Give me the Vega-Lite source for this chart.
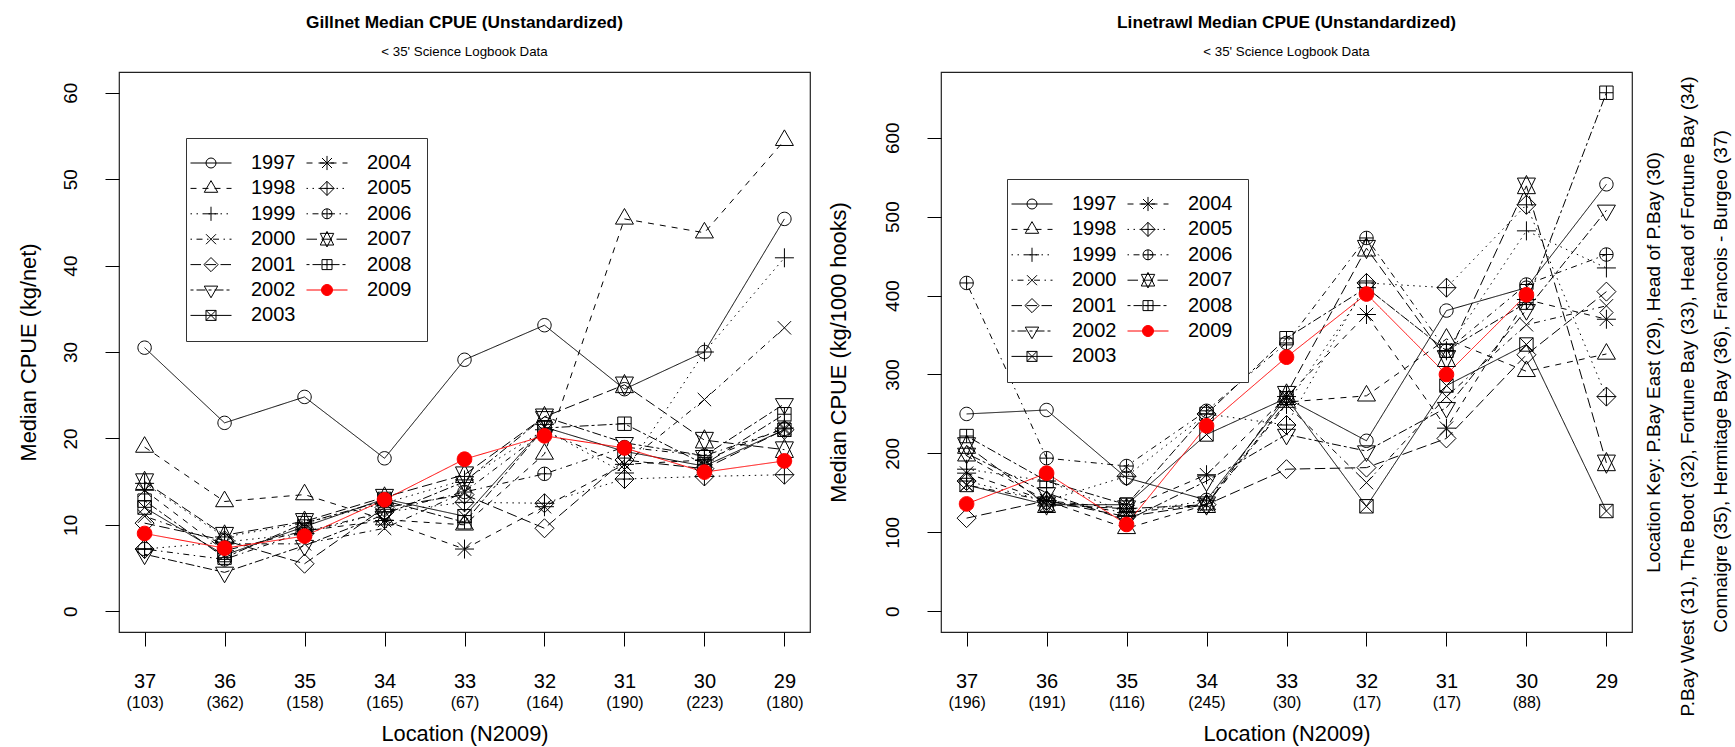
{
  "$schema": "https://vega.github.io/schema/vega-lite/v6.json",
  "background": "white",
  "padding": {"left": 17, "top": 13, "right": 5, "bottom": 5},
  "config": {
    "font": "Liberation Sans",
    "view": {"stroke": "#222222", "strokeWidth": 1.2},
    "axis": {
      "grid": false, "domain": false, "tickColor": "black", "tickWidth": 1, "tickSize": 14,
      "labelColor": "black", "titleColor": "black", "titleFontWeight": "normal",
      "labelFont": "Liberation Sans", "titleFont": "Liberation Sans",
      "labelOverlap": false, "labelFlush": false
    },
    "concat": {"spacing": 16},
    "title": {
      "color": "black", "subtitleColor": "black", "font": "Liberation Sans", "subtitleFont": "Liberation Sans",
      "fontWeight": "bold", "fontSize": 17.3, "subtitleFontSize": 13.3, "anchor": "middle", "frame": "group",
      "subtitlePadding": 13.5, "offset": 14
    },
    "legend": {
      "orient": "none", "columns": 2, "padding": 15, "rowPadding": 5.4, "columnPadding": 8,
      "labelFontSize": 20, "labelOffset": 30, "labelColor": "black", "labelFont": "Liberation Sans",
      "symbolSize": 4, "symbolStrokeWidth": 1, "symbolOpacity": 1,
      "strokeColor": "#333333", "fillColor": "white", "cornerRadius": 0
    }
  },
  "datasets": {
    "gillnet": [
      {"loc":"37","year":"1997","cpue":30.5},{"loc":"36","year":"1997","cpue":21.8},{"loc":"35","year":"1997","cpue":24.8},{"loc":"34","year":"1997","cpue":17.7},{"loc":"33","year":"1997","cpue":29.1},{"loc":"32","year":"1997","cpue":33.1},{"loc":"31","year":"1997","cpue":25.7},{"loc":"30","year":"1997","cpue":30.0},{"loc":"29","year":"1997","cpue":45.4},
      {"loc":"37","year":"1998","cpue":19.0},{"loc":"36","year":"1998","cpue":12.7},{"loc":"35","year":"1998","cpue":13.5},{"loc":"34","year":"1998","cpue":10.6},{"loc":"33","year":"1998","cpue":10.0},{"loc":"32","year":"1998","cpue":18.2},{"loc":"31","year":"1998","cpue":45.4},{"loc":"30","year":"1998","cpue":43.8},{"loc":"29","year":"1998","cpue":54.5},
      {"loc":"37","year":"1999","cpue":14.8},{"loc":"36","year":"1999","cpue":8.6},{"loc":"35","year":"1999","cpue":10.2},{"loc":"34","year":"1999","cpue":12.5},{"loc":"33","year":"1999","cpue":15.2},{"loc":"32","year":"1999","cpue":21.0},{"loc":"31","year":"1999","cpue":16.0},{"loc":"30","year":"1999","cpue":30.0},{"loc":"29","year":"1999","cpue":40.9},
      {"loc":"37","year":"2000","cpue":11.0},{"loc":"36","year":"2000","cpue":7.8},{"loc":"35","year":"2000","cpue":7.8},{"loc":"34","year":"2000","cpue":9.6},{"loc":"33","year":"2000","cpue":13.8},{"loc":"32","year":"2000","cpue":20.8},{"loc":"31","year":"2000","cpue":17.0},{"loc":"30","year":"2000","cpue":24.5},{"loc":"29","year":"2000","cpue":32.8},
      {"loc":"37","year":"2001","cpue":10.2},{"loc":"36","year":"2001","cpue":8.2},{"loc":"35","year":"2001","cpue":5.5},{"loc":"34","year":"2001","cpue":12.0},{"loc":"33","year":"2001","cpue":13.5},{"loc":"32","year":"2001","cpue":9.6},{"loc":"31","year":"2001","cpue":17.5},{"loc":"30","year":"2001","cpue":16.5},{"loc":"29","year":"2001","cpue":21.0},
      {"loc":"37","year":"2002","cpue":6.6},{"loc":"36","year":"2002","cpue":4.5},{"loc":"35","year":"2002","cpue":7.6},{"loc":"34","year":"2002","cpue":11.2},{"loc":"33","year":"2002","cpue":15.0},{"loc":"32","year":"2002","cpue":22.5},{"loc":"31","year":"2002","cpue":19.5},{"loc":"30","year":"2002","cpue":18.0},{"loc":"29","year":"2002","cpue":24.0},
      {"loc":"37","year":"2003","cpue":12.0},{"loc":"36","year":"2003","cpue":6.5},{"loc":"35","year":"2003","cpue":9.8},{"loc":"34","year":"2003","cpue":13.0},{"loc":"33","year":"2003","cpue":11.0},{"loc":"32","year":"2003","cpue":21.3},{"loc":"31","year":"2003","cpue":18.5},{"loc":"30","year":"2003","cpue":16.8},{"loc":"29","year":"2003","cpue":21.0},
      {"loc":"37","year":"2004","cpue":14.0},{"loc":"36","year":"2004","cpue":7.0},{"loc":"35","year":"2004","cpue":9.3},{"loc":"34","year":"2004","cpue":10.5},{"loc":"33","year":"2004","cpue":7.2},{"loc":"32","year":"2004","cpue":12.1},{"loc":"31","year":"2004","cpue":17.0},{"loc":"30","year":"2004","cpue":17.5},{"loc":"29","year":"2004","cpue":21.2},
      {"loc":"37","year":"2005","cpue":7.2},{"loc":"36","year":"2005","cpue":8.0},{"loc":"35","year":"2005","cpue":9.0},{"loc":"34","year":"2005","cpue":11.5},{"loc":"33","year":"2005","cpue":12.6},{"loc":"32","year":"2005","cpue":12.5},{"loc":"31","year":"2005","cpue":15.3},{"loc":"30","year":"2005","cpue":15.6},{"loc":"29","year":"2005","cpue":15.8},
      {"loc":"37","year":"2006","cpue":7.2},{"loc":"36","year":"2006","cpue":6.0},{"loc":"35","year":"2006","cpue":9.2},{"loc":"34","year":"2006","cpue":11.5},{"loc":"33","year":"2006","cpue":13.8},{"loc":"32","year":"2006","cpue":15.9},{"loc":"31","year":"2006","cpue":19.0},{"loc":"30","year":"2006","cpue":18.0},{"loc":"29","year":"2006","cpue":21.1},
      {"loc":"37","year":"2007","cpue":15.0},{"loc":"36","year":"2007","cpue":8.8},{"loc":"35","year":"2007","cpue":10.4},{"loc":"34","year":"2007","cpue":13.2},{"loc":"33","year":"2007","cpue":15.8},{"loc":"32","year":"2007","cpue":22.5},{"loc":"31","year":"2007","cpue":26.2},{"loc":"30","year":"2007","cpue":19.8},{"loc":"29","year":"2007","cpue":18.7},
      {"loc":"37","year":"2008","cpue":12.8},{"loc":"36","year":"2008","cpue":6.2},{"loc":"35","year":"2008","cpue":10.2},{"loc":"34","year":"2008","cpue":12.8},{"loc":"33","year":"2008","cpue":10.3},{"loc":"32","year":"2008","cpue":21.2},{"loc":"31","year":"2008","cpue":21.7},{"loc":"30","year":"2008","cpue":17.0},{"loc":"29","year":"2008","cpue":22.8},
      {"loc":"37","year":"2009","cpue":9.0},{"loc":"36","year":"2009","cpue":7.3},{"loc":"35","year":"2009","cpue":8.7},{"loc":"34","year":"2009","cpue":12.9},{"loc":"33","year":"2009","cpue":17.6},{"loc":"32","year":"2009","cpue":20.3},{"loc":"31","year":"2009","cpue":18.9},{"loc":"30","year":"2009","cpue":16.1},{"loc":"29","year":"2009","cpue":17.4}
    ],
    "linetrawl": [
      {"loc":"37","year":"1997","cpue":250},{"loc":"36","year":"1997","cpue":255},{"loc":"35","year":"1997","cpue":169},{"loc":"34","year":"1997","cpue":141},{"loc":"33","year":"1997","cpue":270},{"loc":"32","year":"1997","cpue":216},{"loc":"31","year":"1997","cpue":381},{"loc":"30","year":"1997","cpue":410},{"loc":"29","year":"1997","cpue":541},
      {"loc":"37","year":"1998","cpue":197},{"loc":"36","year":"1998","cpue":140},{"loc":"35","year":"1998","cpue":105},{"loc":"34","year":"1998","cpue":135},{"loc":"33","year":"1998","cpue":265},{"loc":"32","year":"1998","cpue":273},{"loc":"31","year":"1998","cpue":345},{"loc":"30","year":"1998","cpue":304},{"loc":"29","year":"1998","cpue":326},
      {"loc":"37","year":"1999","cpue":180},{"loc":"36","year":"1999","cpue":165},{"loc":"35","year":"1999","cpue":125},{"loc":"34","year":"1999","cpue":140},{"loc":"33","year":"1999","cpue":262},{"loc":"32","year":"1999","cpue":410},{"loc":"31","year":"1999","cpue":330},{"loc":"30","year":"1999","cpue":482},{"loc":"29","year":"1999","cpue":435},
      {"loc":"37","year":"2000","cpue":160},{"loc":"36","year":"2000","cpue":140},{"loc":"35","year":"2000","cpue":125},{"loc":"34","year":"2000","cpue":135},{"loc":"33","year":"2000","cpue":262},{"loc":"32","year":"2000","cpue":163},{"loc":"31","year":"2000","cpue":272},{"loc":"30","year":"2000","cpue":363},{"loc":"29","year":"2000","cpue":387},
      {"loc":"37","year":"2001","cpue":118},{"loc":"36","year":"2001","cpue":140},{"loc":"35","year":"2001","cpue":120},{"loc":"34","year":"2001","cpue":135},{"loc":"33","year":"2001","cpue":180},{"loc":"32","year":"2001","cpue":182},{"loc":"31","year":"2001","cpue":219},{"loc":"30","year":"2001","cpue":325},{"loc":"29","year":"2001","cpue":405},
      {"loc":"37","year":"2002","cpue":200},{"loc":"36","year":"2002","cpue":150},{"loc":"35","year":"2002","cpue":115},{"loc":"34","year":"2002","cpue":165},{"loc":"33","year":"2002","cpue":224},{"loc":"32","year":"2002","cpue":203},{"loc":"31","year":"2002","cpue":258},{"loc":"30","year":"2002","cpue":382},{"loc":"29","year":"2002","cpue":508},
      {"loc":"37","year":"2003","cpue":160},{"loc":"36","year":"2003","cpue":135},{"loc":"35","year":"2003","cpue":135},{"loc":"34","year":"2003","cpue":224},{"loc":"33","year":"2003","cpue":270},{"loc":"32","year":"2003","cpue":133},{"loc":"31","year":"2003","cpue":286},{"loc":"30","year":"2003","cpue":338},{"loc":"29","year":"2003","cpue":127},
      {"loc":"37","year":"2004","cpue":175},{"loc":"36","year":"2004","cpue":140},{"loc":"35","year":"2004","cpue":130},{"loc":"34","year":"2004","cpue":173},{"loc":"33","year":"2004","cpue":272},{"loc":"32","year":"2004","cpue":376},{"loc":"31","year":"2004","cpue":232},{"loc":"30","year":"2004","cpue":395},{"loc":"29","year":"2004","cpue":370},
      {"loc":"37","year":"2005","cpue":165},{"loc":"36","year":"2005","cpue":140},{"loc":"35","year":"2005","cpue":171},{"loc":"34","year":"2005","cpue":250},{"loc":"33","year":"2005","cpue":236},{"loc":"32","year":"2005","cpue":416},{"loc":"31","year":"2005","cpue":410},{"loc":"30","year":"2005","cpue":515},{"loc":"29","year":"2005","cpue":272},
      {"loc":"37","year":"2006","cpue":416},{"loc":"36","year":"2006","cpue":194},{"loc":"35","year":"2006","cpue":184},{"loc":"34","year":"2006","cpue":254},{"loc":"33","year":"2006","cpue":340},{"loc":"32","year":"2006","cpue":473},{"loc":"31","year":"2006","cpue":330},{"loc":"30","year":"2006","cpue":414},{"loc":"29","year":"2006","cpue":452},
      {"loc":"37","year":"2007","cpue":210},{"loc":"36","year":"2007","cpue":135},{"loc":"35","year":"2007","cpue":130},{"loc":"34","year":"2007","cpue":135},{"loc":"33","year":"2007","cpue":275},{"loc":"32","year":"2007","cpue":460},{"loc":"31","year":"2007","cpue":320},{"loc":"30","year":"2007","cpue":539},{"loc":"29","year":"2007","cpue":188},
      {"loc":"37","year":"2008","cpue":222},{"loc":"36","year":"2008","cpue":165},{"loc":"35","year":"2008","cpue":135},{"loc":"34","year":"2008","cpue":250},{"loc":"33","year":"2008","cpue":346},{"loc":"32","year":"2008","cpue":410},{"loc":"31","year":"2008","cpue":330},{"loc":"30","year":"2008","cpue":391},{"loc":"29","year":"2008","cpue":657},
      {"loc":"37","year":"2009","cpue":136},{"loc":"36","year":"2009","cpue":175},{"loc":"35","year":"2009","cpue":110},{"loc":"34","year":"2009","cpue":235},{"loc":"33","year":"2009","cpue":322},{"loc":"32","year":"2009","cpue":402},{"loc":"31","year":"2009","cpue":300},{"loc":"30","year":"2009","cpue":401}
    ]
  },
  "resolve": {
    "scale": {"shape": "independent", "stroke": "independent", "fill": "independent", "strokeDash": "independent"}
  },
  "hconcat": [
    {
      "width": 691,
      "height": 560,
      "title": {"text": "Gillnet Median CPUE (Unstandardized)", "subtitle": "< 35' Science Logbook Data"},
      "data": {"name": "gillnet"},
      "resolve": {"scale": {"shape": "independent", "fill": "independent", "stroke": "independent"}, "axis": {"x": "independent", "y": "independent"}},
      "layer": [
        {
          "mark": {"type": "line", "strokeWidth": 1},
          "encoding": {
            "x": {"field": "loc", "type": "ordinal",
              "scale": {"type": "point", "domain": ["37","36","35","34","33","32","31","30","29"], "padding": 0.32},
              "axis": {"labelAngle": 0, "labelFontSize": 20, "labelPadding": 25, "title": null}},
            "y": {"field": "cpue", "type": "quantitative",
              "scale": {"domain": [-2.4, 62.4], "nice": false, "zero": false},
              "axis": {"values": [0,10,20,30,40,50,60], "labelAngle": 270, "labelFontSize": 19, "labelPadding": 25,
                "encode": {"labels": {"update": {"angle": {"value": -90}, "align": {"value": "center"}, "baseline": {"value": "bottom"}}}},
                "title": "Median CPUE (kg/net)", "titleFontSize": 21.8, "titlePadding": 21}},
            "detail": {"field": "year"},
            "stroke": {"field": "year", "type": "nominal", "legend": null,
              "scale": {"range": ["black","black","black","black","black","black","black","black","black","black","black","black","#ff0000"]}},
            "strokeDash": {"field": "year", "type": "nominal", "legend": null,
              "scale": {"range": [[1,0],[6,6],[1.5,4.5],[1.5,4.5,6,4.5],[10.5,4.5],[3,3,9,3],[1,0],[6,6],[1.5,4.5],[1.5,4.5,6,4.5],[10.5,4.5],[3,3,9,3],[1,0]]}}
          }
        },
        {
          "mark": {"type": "point", "filled": false, "size": 4, "strokeWidth": 1, "opacity": 1},
          "encoding": {
            "x": {"field": "loc", "type": "ordinal",
              "scale": {"type": "point", "domain": ["37","36","35","34","33","32","31","30","29"], "padding": 0.32},
              "axis": {"orient": "bottom", "ticks": false, "labelAngle": 0, "labelFontSize": 16, "labelPadding": 62,
                "labelExpr": "{'37':'(103)','36':'(362)','35':'(158)','34':'(165)','33':'(67)','32':'(164)','31':'(190)','30':'(223)','29':'(180)'}[datum.value]",
                "title": "Location (N2009)", "titleFontSize": 21.8, "titlePadding": 13}},
            "y": {"field": "cpue", "type": "quantitative", "scale": {"domain": [-2.4, 62.4], "nice": false, "zero": false}, "axis": null},
            "shape": {"field": "year", "type": "nominal", "legend": null,
              "scale": {"range": [
                  "M6.7,0A6.7,6.7 0 1,1 -6.7,0A6.7,6.7 0 1,1 6.7,0Z",
                  "M0,-10.4L9,5.2L-9,5.2Z",
                  "M-9.5,0H9.5M0,-9.5V9.5",
                  "M-6.7,-6.7L6.7,6.7M-6.7,6.7L6.7,-6.7",
                  "M-9.5,0L0,-9.5L9.5,0L0,9.5Z",
                  "M0,10.4L9,-5.2L-9,-5.2Z",
                  "M-6.7,-6.7H6.7V6.7H-6.7ZM-6.7,-6.7L6.7,6.7M-6.7,6.7L6.7,-6.7",
                  "M-9.5,0H9.5M0,-9.5V9.5M-6.7,-6.7L6.7,6.7M-6.7,6.7L6.7,-6.7",
                  "M-9.5,0L0,-9.5L9.5,0L0,9.5ZM-9.5,0H9.5M0,-9.5V9.5",
                  "M6.7,0A6.7,6.7 0 1,1 -6.7,0A6.7,6.7 0 1,1 6.7,0ZM-6.7,0H6.7M0,-6.7V6.7",
                  "M0,-10.4L9,7.8L-9,7.8ZM0,10.4L9,-7.8L-9,-7.8Z",
                  "M-6.7,-6.7H6.7V6.7H-6.7ZM-6.7,0H6.7M0,-6.7V6.7",
                  "M7.3,0A7.3,7.3 0 1,1 -7.3,0A7.3,7.3 0 1,1 7.3,0Z"
                ]}},
            "stroke": {"field": "year", "type": "nominal", "legend": null,
              "scale": {"range": ["black","black","black","black","black","black","black","black","black","black","black","black","#ff0000"]}},
            "fill": {"field": "year", "type": "nominal", "legend": null,
              "scale": {"range": ["transparent","transparent","transparent","transparent","transparent","transparent","transparent","transparent","transparent","transparent","transparent","transparent","#ff0000"]}}
          }
        },
        {
          "transform": [{"filter": "datum.cpue < 0"}],
          "mark": {"type": "point", "filled": false, "size": 4, "strokeWidth": 1},
          "encoding": {
            "x": {"field": "loc", "type": "ordinal",
              "scale": {"type": "point", "domain": ["37","36","35","34","33","32","31","30","29"], "padding": 0.32}, "axis": null},
            "y": {"field": "cpue", "type": "quantitative", "scale": {"domain": [-2.4, 62.4], "nice": false, "zero": false}, "axis": null},
            "shape": {"field": "year", "type": "nominal",
              "scale": {"domain": ["1997","1998","1999","2000","2001","2002","2003","2004","2005","2006","2007","2008","2009"],
                "range": [
                  "M-20.5,0H20.5M5,0A5,5 0 1,1 -5,0A5,5 0 1,1 5,0Z",
                  "M-20.5,0H-14.5M-8.5,0H-2.5M3.5,0H9.5M15.5,0H20.5M0,-7.78L6.73,3.89L-6.73,3.89Z",
                  "M-20.5,0H-19M-14.5,0H-13M-8.5,0H-7M-2.5,0H-1M3.5,0H5M9.5,0H11M15.5,0H17M-7.07,0H7.07M0,-7.07V7.07",
                  "M-20.5,0H-19M-14.5,0H-8.5M-4,0H-2.5M2,0H8M12.5,0H14M18.5,0H20.5M-5,-5L5,5M-5,5L5,-5",
                  "M-20.5,0H-10M-5.5,0H5M9.5,0H20M-7.07,0L0,-7.07L7.07,0L0,7.07Z",
                  "M-20.5,0H-17.5M-14.5,0H-5.5M-2.5,0H0.5M3.5,0H12.5M15.5,0H18.5M0,7.78L6.73,-3.89L-6.73,-3.89Z",
                  "M-20.5,0H20.5M-5,-5H5V5H-5ZM-5,-5L5,5M-5,5L5,-5",
                  "M-20.5,0H-14.5M-8.5,0H-2.5M3.5,0H9.5M15.5,0H20.5M-7.07,0H7.07M0,-7.07V7.07M-5,-5L5,5M-5,5L5,-5",
                  "M-20.5,0H-19M-14.5,0H-13M-8.5,0H-7M-2.5,0H-1M3.5,0H5M9.5,0H11M15.5,0H17M-7.07,0L0,-7.07L7.07,0L0,7.07ZM-7.07,0H7.07M0,-7.07V7.07",
                  "M-20.5,0H-19M-14.5,0H-8.5M-4,0H-2.5M2,0H8M12.5,0H14M18.5,0H20.5M5,0A5,5 0 1,1 -5,0A5,5 0 1,1 5,0ZM-5,0H5M0,-5V5",
                  "M-20.5,0H-10M-5.5,0H5M9.5,0H20M0,-7.78L6.73,5.83L-6.73,5.83ZM0,7.78L6.73,-5.83L-6.73,-5.83Z",
                  "M-20.5,0H-17.5M-14.5,0H-5.5M-2.5,0H0.5M3.5,0H12.5M15.5,0H18.5M-5,-5H5V5H-5ZM-5,0H5M0,-5V5",
                  "M-20.5,0H20.5M5.5,0A5.5,5.5 0 1,1 -5.5,0A5.5,5.5 0 1,1 5.5,0Z"
                ]},
              "legend": {"orient": "none", "legendX": 67, "legendY": 66, "title": null, "columns": 2}},
            "stroke": {"field": "year", "type": "nominal",
              "scale": {"domain": ["1997","1998","1999","2000","2001","2002","2003","2004","2005","2006","2007","2008","2009"],
                "range": ["black","black","black","black","black","black","black","black","black","black","black","black","#ff0000"]},
              "legend": {"orient": "none", "legendX": 67, "legendY": 66, "title": null, "columns": 2}},
            "fill": {"field": "year", "type": "nominal",
              "scale": {"domain": ["1997","1998","1999","2000","2001","2002","2003","2004","2005","2006","2007","2008","2009"],
                "range": ["transparent","transparent","transparent","transparent","transparent","transparent","transparent","transparent","transparent","transparent","transparent","transparent","#ff0000"]},
              "legend": {"orient": "none", "legendX": 67, "legendY": 66, "title": null, "columns": 2}}
          }
        }
      ]
    },
    {
      "width": 691,
      "height": 560,
      "title": {"text": "Linetrawl Median CPUE (Unstandardized)", "subtitle": "< 35' Science Logbook Data"},
      "data": {"name": "linetrawl"},
      "resolve": {"scale": {"shape": "independent", "fill": "independent", "stroke": "independent"}, "axis": {"x": "independent", "y": "independent"}},
      "layer": [
        {
          "mark": {"type": "line", "strokeWidth": 1},
          "encoding": {
            "x": {"field": "loc", "type": "ordinal",
              "scale": {"type": "point", "domain": ["37","36","35","34","33","32","31","30","29"], "padding": 0.32},
              "axis": {"labelAngle": 0, "labelFontSize": 20, "labelPadding": 25, "title": null}},
            "y": {"field": "cpue", "type": "quantitative",
              "scale": {"domain": [-26.28, 683.28], "nice": false, "zero": false},
              "axis": {"values": [0,100,200,300,400,500,600], "labelAngle": 270, "labelFontSize": 19, "labelPadding": 25,
                "encode": {"labels": {"update": {"angle": {"value": -90}, "align": {"value": "center"}, "baseline": {"value": "bottom"}}}},
                "title": "Median CPUE (kg/1000 hooks)", "titleFontSize": 21.8, "titlePadding": 33}},
            "detail": {"field": "year"},
            "stroke": {"field": "year", "type": "nominal", "legend": null,
              "scale": {"range": ["black","black","black","black","black","black","black","black","black","black","black","black","#ff0000"]}},
            "strokeDash": {"field": "year", "type": "nominal", "legend": null,
              "scale": {"range": [[1,0],[6,6],[1.5,4.5],[1.5,4.5,6,4.5],[10.5,4.5],[3,3,9,3],[1,0],[6,6],[1.5,4.5],[1.5,4.5,6,4.5],[10.5,4.5],[3,3,9,3],[1,0]]}}
          }
        },
        {
          "mark": {"type": "point", "filled": false, "size": 4, "strokeWidth": 1, "opacity": 1},
          "encoding": {
            "x": {"field": "loc", "type": "ordinal",
              "scale": {"type": "point", "domain": ["37","36","35","34","33","32","31","30","29"], "padding": 0.32},
              "axis": {"orient": "bottom", "ticks": false, "labelAngle": 0, "labelFontSize": 16, "labelPadding": 62,
                "labelExpr": "{'37':'(196)','36':'(191)','35':'(116)','34':'(245)','33':'(30)','32':'(17)','31':'(17)','30':'(88)','29':''}[datum.value]",
                "title": "Location (N2009)", "titleFontSize": 21.8, "titlePadding": 13}},
            "y": {"field": "cpue", "type": "quantitative", "scale": {"domain": [-26.28, 683.28], "nice": false, "zero": false},
              "axis": {"orient": "right", "labels": false, "ticks": false, "domain": false,
                "title": "Location Key: P.Bay East (29), Head of P.Bay (30)",
                "titleAngle": -90, "titleAlign": "center", "titleBaseline": "top", "titleFontSize": 19,
                "titleX": 12, "titleY": 290}},
            "shape": {"field": "year", "type": "nominal", "legend": null,
              "scale": {"range": [
                  "M6.7,0A6.7,6.7 0 1,1 -6.7,0A6.7,6.7 0 1,1 6.7,0Z",
                  "M0,-10.4L9,5.2L-9,5.2Z",
                  "M-9.5,0H9.5M0,-9.5V9.5",
                  "M-6.7,-6.7L6.7,6.7M-6.7,6.7L6.7,-6.7",
                  "M-9.5,0L0,-9.5L9.5,0L0,9.5Z",
                  "M0,10.4L9,-5.2L-9,-5.2Z",
                  "M-6.7,-6.7H6.7V6.7H-6.7ZM-6.7,-6.7L6.7,6.7M-6.7,6.7L6.7,-6.7",
                  "M-9.5,0H9.5M0,-9.5V9.5M-6.7,-6.7L6.7,6.7M-6.7,6.7L6.7,-6.7",
                  "M-9.5,0L0,-9.5L9.5,0L0,9.5ZM-9.5,0H9.5M0,-9.5V9.5",
                  "M6.7,0A6.7,6.7 0 1,1 -6.7,0A6.7,6.7 0 1,1 6.7,0ZM-6.7,0H6.7M0,-6.7V6.7",
                  "M0,-10.4L9,7.8L-9,7.8ZM0,10.4L9,-7.8L-9,-7.8Z",
                  "M-6.7,-6.7H6.7V6.7H-6.7ZM-6.7,0H6.7M0,-6.7V6.7",
                  "M7.3,0A7.3,7.3 0 1,1 -7.3,0A7.3,7.3 0 1,1 7.3,0Z"
                ]}},
            "stroke": {"field": "year", "type": "nominal", "legend": null,
              "scale": {"range": ["black","black","black","black","black","black","black","black","black","black","black","black","#ff0000"]}},
            "fill": {"field": "year", "type": "nominal", "legend": null,
              "scale": {"range": ["transparent","transparent","transparent","transparent","transparent","transparent","transparent","transparent","transparent","transparent","transparent","transparent","#ff0000"]}}
          }
        },
        {
          "transform": [{"filter": "datum.cpue < 0"}],
          "mark": {"type": "point", "filled": false, "size": 4, "strokeWidth": 1},
          "encoding": {
            "x": {"field": "loc", "type": "ordinal",
              "scale": {"type": "point", "domain": ["37","36","35","34","33","32","31","30","29"], "padding": 0.32}, "axis": null},
            "y": {"field": "cpue", "type": "quantitative", "scale": {"domain": [-26.28, 683.28], "nice": false, "zero": false},
              "axis": {"orient": "right", "labels": false, "ticks": false, "domain": false,
                "title": "P.Bay West (31), The Boot (32), Fortune Bay (33), Head of Fortune Bay (34)",
                "titleAngle": -90, "titleAlign": "center", "titleBaseline": "top", "titleFontSize": 19,
                "titleX": 46, "titleY": 324}},
            "shape": {"field": "year", "type": "nominal",
              "scale": {"domain": ["1997","1998","1999","2000","2001","2002","2003","2004","2005","2006","2007","2008","2009"],
                "range": [
                  "M-20.5,0H20.5M5,0A5,5 0 1,1 -5,0A5,5 0 1,1 5,0Z",
                  "M-20.5,0H-14.5M-8.5,0H-2.5M3.5,0H9.5M15.5,0H20.5M0,-7.78L6.73,3.89L-6.73,3.89Z",
                  "M-20.5,0H-19M-14.5,0H-13M-8.5,0H-7M-2.5,0H-1M3.5,0H5M9.5,0H11M15.5,0H17M-7.07,0H7.07M0,-7.07V7.07",
                  "M-20.5,0H-19M-14.5,0H-8.5M-4,0H-2.5M2,0H8M12.5,0H14M18.5,0H20.5M-5,-5L5,5M-5,5L5,-5",
                  "M-20.5,0H-10M-5.5,0H5M9.5,0H20M-7.07,0L0,-7.07L7.07,0L0,7.07Z",
                  "M-20.5,0H-17.5M-14.5,0H-5.5M-2.5,0H0.5M3.5,0H12.5M15.5,0H18.5M0,7.78L6.73,-3.89L-6.73,-3.89Z",
                  "M-20.5,0H20.5M-5,-5H5V5H-5ZM-5,-5L5,5M-5,5L5,-5",
                  "M-20.5,0H-14.5M-8.5,0H-2.5M3.5,0H9.5M15.5,0H20.5M-7.07,0H7.07M0,-7.07V7.07M-5,-5L5,5M-5,5L5,-5",
                  "M-20.5,0H-19M-14.5,0H-13M-8.5,0H-7M-2.5,0H-1M3.5,0H5M9.5,0H11M15.5,0H17M-7.07,0L0,-7.07L7.07,0L0,7.07ZM-7.07,0H7.07M0,-7.07V7.07",
                  "M-20.5,0H-19M-14.5,0H-8.5M-4,0H-2.5M2,0H8M12.5,0H14M18.5,0H20.5M5,0A5,5 0 1,1 -5,0A5,5 0 1,1 5,0ZM-5,0H5M0,-5V5",
                  "M-20.5,0H-10M-5.5,0H5M9.5,0H20M0,-7.78L6.73,5.83L-6.73,5.83ZM0,7.78L6.73,-5.83L-6.73,-5.83Z",
                  "M-20.5,0H-17.5M-14.5,0H-5.5M-2.5,0H0.5M3.5,0H12.5M15.5,0H18.5M-5,-5H5V5H-5ZM-5,0H5M0,-5V5",
                  "M-20.5,0H20.5M5.5,0A5.5,5.5 0 1,1 -5.5,0A5.5,5.5 0 1,1 5.5,0Z"
                ]},
              "legend": {"orient": "none", "legendX": 66, "legendY": 107, "title": null, "columns": 2}},
            "stroke": {"field": "year", "type": "nominal",
              "scale": {"domain": ["1997","1998","1999","2000","2001","2002","2003","2004","2005","2006","2007","2008","2009"],
                "range": ["black","black","black","black","black","black","black","black","black","black","black","black","#ff0000"]},
              "legend": {"orient": "none", "legendX": 66, "legendY": 107, "title": null, "columns": 2}},
            "fill": {"field": "year", "type": "nominal",
              "scale": {"domain": ["1997","1998","1999","2000","2001","2002","2003","2004","2005","2006","2007","2008","2009"],
                "range": ["transparent","transparent","transparent","transparent","transparent","transparent","transparent","transparent","transparent","transparent","transparent","transparent","#ff0000"]},
              "legend": {"orient": "none", "legendX": 66, "legendY": 107, "title": null, "columns": 2}}
          }
        },
        {
          "mark": {"type": "point", "opacity": 0},
          "encoding": {
            "x": {"field": "loc", "type": "ordinal",
              "scale": {"type": "point", "domain": ["37","36","35","34","33","32","31","30","29"], "padding": 0.32}, "axis": null},
            "y": {"field": "cpue", "type": "quantitative", "scale": {"domain": [-26.28, 683.28], "nice": false, "zero": false},
              "axis": {"orient": "right", "labels": false, "ticks": false, "domain": false,
                "title": "Connaigre (35), Hermitage Bay (36), Francois - Burgeo (37)",
                "titleAngle": -90, "titleAlign": "center", "titleBaseline": "top", "titleFontSize": 19,
                "titleX": 79, "titleY": 309}}
          }
        }
      ]
    }
  ]
}
